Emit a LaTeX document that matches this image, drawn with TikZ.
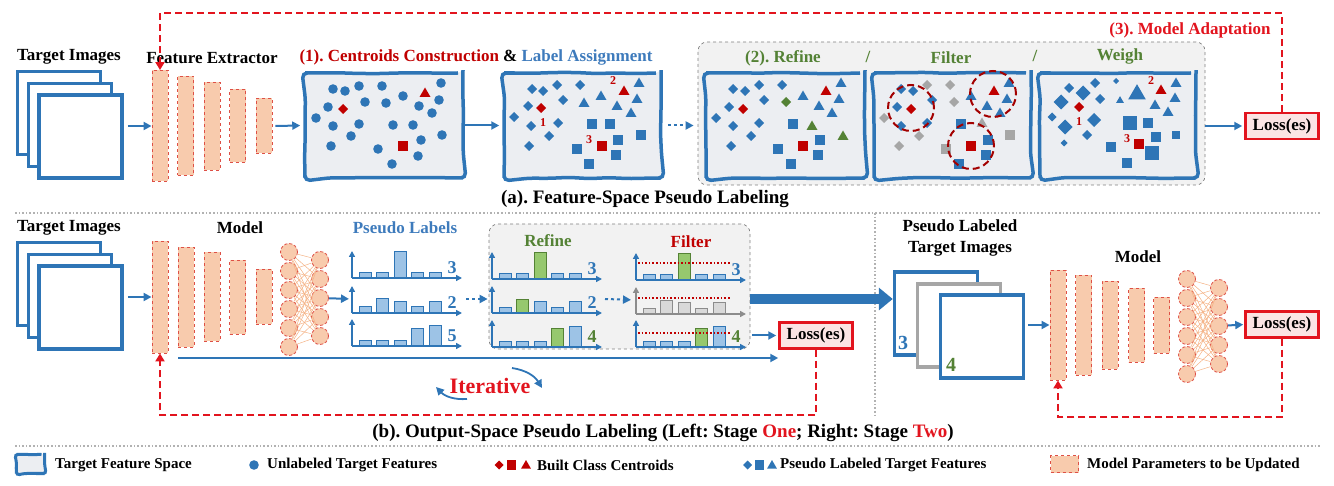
\documentclass[tikz,border=0pt]{standalone}
\usepackage{fontspec}
\setmainfont{Liberation Serif}
\usetikzlibrary{positioning,arrows.meta,shapes.geometric,decorations.pathmorphing}

\definecolor{featblue}{RGB}{46,117,182}
\definecolor{titleblue}{RGB}{62,123,188}
\definecolor{darkred}{RGB}{192,0,0}
\definecolor{fbred}{RGB}{226,20,30}
\definecolor{darkgreen}{RGB}{84,130,53}
\definecolor{peach}{RGB}{248,203,173}
\definecolor{layerred}{RGB}{222,80,70}
\definecolor{fsfill}{RGB}{236,238,242}
\definecolor{boxgray}{RGB}{242,242,242}
\definecolor{losspink}{RGB}{251,228,228}
\definecolor{markgray}{RGB}{166,166,166}
\definecolor{synorange}{RGB}{244,177,131}
% bar colours: fill / border for blue, green, grey bars
\definecolor{bfb}{RGB}{157,195,230}
\definecolor{bdb}{RGB}{46,117,182}
\definecolor{bfg}{RGB}{150,200,110}
\definecolor{bdg}{RGB}{84,130,53}
\definecolor{bfy}{RGB}{217,217,217}
\definecolor{bdy}{RGB}{140,140,140}

\tikzset{
  img/.style={draw=featblue, line width=3.5pt, fill=white, minimum width=83pt, minimum height=83pt, inner sep=0pt},
  layer/.style={draw=layerred, fill=peach, dashed, line width=0.9pt, minimum width=16pt, inner sep=0pt},
  neuron/.style={circle, draw=layerred, fill=peach, densely dashed, line width=0.8pt, minimum size=17pt, inner sep=0pt},
  synapse/.style={draw=synorange, line width=0.5pt},
  fspace/.style={draw=featblue, fill=fsfill, line width=3.5pt, rounded corners=5pt, inner sep=0pt,
    decorate, decoration={random steps, segment length=20pt, amplitude=0.6pt}},
  graybox/.style={draw=gray, fill=boxgray, dashed, line width=0.7pt, rounded corners=9pt, inner sep=0pt},
  lossbox/.style={draw=fbred, fill=losspink, line width=2.5pt, minimum width=73pt, minimum height=26pt, inner sep=0pt},
  flow/.style={draw=featblue, line width=2pt, -{Triangle[length=8pt, width=8pt]}},
  dotflow/.style={flow, dash pattern=on 3pt off 3pt},
  bigflow/.style={draw=featblue, line width=10pt, -{Triangle[length=14pt, width=22pt]}},
  feedback/.style={draw=fbred, line width=2.2pt, dash pattern=on 7pt off 4pt, -{Triangle[length=8pt, width=9pt]}},
  sepline/.style={draw=gray!60, line width=2.2pt, dash pattern=on 1.6pt off 2pt},
  axisarrow/.style={line width=1.8pt, -{Triangle[length=6pt, width=6pt]}},
  thresh/.style={draw=darkred, line width=1.6pt, dash pattern=on 1.6pt off 2pt},
  filtcirc/.style={draw=darkred!85!black, line width=2pt, dash pattern=on 7pt off 4pt},
  ptlbl/.style={text=darkred, font=\bfseries\fontsize{12}{12}\selectfont},
  numlbl/.style={font=\bfseries\fontsize{18}{18}\selectfont},
  legtxt/.style={anchor=west, inner sep=1pt, font=\bfseries\fontsize{15}{17}\selectfont},
  partttl/.style={font=\bfseries\fontsize{19}{21}\selectfont},
  dia/.pic={\fill (-5,0) -- (0,-5) -- (5,0) -- (0,5) -- cycle;},
  tri/.pic={\fill (-5.5,4) -- (5.5,4) -- (0,-5.5) -- cycle;},
  sqr/.pic={\fill (-5.2,-5.2) rectangle (5.2,5.2);},
  dot/.pic={\fill (0,0) circle (4.8pt);},
}

% small bar chart: name, x0, baseline, axis colour, bars h/colour, label colour, label
\newcommand{\probhist}[7]{%
  \foreach \h/\s [count=\k from 0] in {#5}
    \draw[draw=bd\s, fill=bf\s, line width=1pt] ({#2+7+17.5*\k},#3) rectangle ++(12,-\h);
  \draw[axisarrow,#4] (#2,#3) -- ++(0,-27);
  \draw[axisarrow,#4] (#2,#3) -- ++(110,0);
  \coordinate (#1) at (#2,{#3-14});
  \node[numlbl, text=#6] (#1n) at ({#2+100},{#3-10}) {#7};
}

\begin{document}
\frenchspacing
\begin{tikzpicture}[x=1pt, y=-1pt, font=\bfseries\fontsize{17}{19}\selectfont]
\pgfmathsetseed{7}
\useasboundingbox (0,0) rectangle (1334,486);

% ---------------- (a) feature-space pseudo labeling ----------------
\node[img] (sa1) at (59,113) {};
\node[img] (sa2) at (70,125) {};
\node[img] (sa3) at (80.5,136.5) {};
\node (tia) at (69,57) {Target Images};
\node (fex) at (212,58) {Feature Extractor};
\foreach \i/\xc/\h in {1/160/111,2/185.5/99,3/212/88,4/237.5/73,5/264/55}
  \node[layer, minimum height=\h pt] (fe\i) at (\xc,126) {};

\node[graybox, minimum width=507pt, minimum height=143pt] (gb1) at (951.5,113.5) {};
\node[fspace, minimum width=158pt, minimum height=105pt] (fs1) at (384,125.5) {};
\node[fspace, minimum width=157pt, minimum height=105pt] (fs2) at (582.5,125.5) {};
\node[fspace, minimum width=159pt, minimum height=105pt] (fs3) at (785.5,125.5) {};
\node[fspace, minimum width=157pt, minimum height=105pt] (fs4) at (952.5,125.5) {};
\node[fspace, minimum width=156pt, minimum height=105pt] (fs5) at (1118,125.5) {};

\node (cct) at (476,57) {\textcolor{darkred}{(1). Centroids Construction} \& \textcolor{titleblue}{Label Assignment}};
\node[text=darkgreen] (rft) at (783,58) {(2). Refine};
\node[text=darkgreen] (sl1) at (868,57) {/};
\node[text=darkgreen] (flt) at (951,58) {Filter};
\node[text=darkgreen] (sl2) at (1035,56) {/};
\node[text=darkgreen] (wgt) at (1120,56) {Weigh};
\node[text=fbred, anchor=east] (mat) at (1274,30) {(3). Model Adaptation};

% box 1: unlabeled features and centroids
\foreach \x/\y in {333/89,345/91,359/86,382/86,403/96,441/83,328/107,365/102,386/103,419/106,439/100,432/113,
  316/118,333/126,359/124,393/125,413/125,351/136,421/140,442/135,331/146,378/149,418/156,392/164}
  \pic[featblue] at (\x,\y) {dot};
\pic[darkred] at (343,109) {dia};
\pic[darkred] at (425,93) {tri};
\pic[darkred] at (403,146) {sqr};

% box 2: label assignment
\foreach \x/\y in {532/89,543/91,557/85,580/85,563/100,528/106,514/117,531/126,558/123,549/136,529/146}
  \pic[featblue] at (\x,\y) {dia};
\foreach \x/\y in {639/83,601/96,584/103,637/99,617/106,631/113}
  \pic[featblue] at (\x,\y) {tri};
\foreach \x/\y in {592/124,610/124,641/135,618/140,577/149,616/155,589/164}
  \pic[featblue] at (\x,\y) {sqr};
\pic[darkred] at (541,108) {dia};
\pic[darkred] at (624,91) {tri};
\pic[darkred] at (602,146) {sqr};
\node[ptlbl] (p1) at (543,123) {1};
\node[ptlbl] (p2) at (613,81) {2};
\node[ptlbl] (p3) at (589,140) {3};

% box 3: refine
\foreach \x/\y in {733/89,745/91,759/85,782/85,764/100,729/107,716/118,733/126,759/123,751/136,731/146}
  \pic[featblue] at (\x,\y) {dia};
\foreach \x/\y in {841/83,803/96,819/106,839/99,832/113}
  \pic[featblue] at (\x,\y) {tri};
\foreach \x/\y in {793/124,820/140,778/149,818/155,791/164}
  \pic[featblue] at (\x,\y) {sqr};
\pic[darkgreen] at (786,102) {dia};
\pic[darkgreen] at (812,126) {tri};
\pic[darkgreen] at (843,136) {tri};
\pic[darkred] at (743,109) {dia};
\pic[darkred] at (826,91) {tri};
\pic[darkred] at (803,146) {sqr};

% box 4: filter
\foreach \x/\y in {901/89,913/91,897/107,901/126,927/123,932/100}
  \pic[featblue] at (\x,\y) {dia};
\foreach \x/\y in {927/85,950/85,884/118,919/136,899/146,954/102}
  \pic[markgray] at (\x,\y) {dia};
\foreach \x/\y in {1009/83,971/96,987/106,1007/99,1000/113}
  \pic[featblue] at (\x,\y) {tri};
\pic[markgray] at (982,123) {tri};
\foreach \x/\y in {961/124,988/140,986/155,959/164}
  \pic[featblue] at (\x,\y) {sqr};
\pic[markgray] at (946,149) {sqr};
\pic[markgray] at (1010,135) {sqr};
\pic[darkred] at (911,109) {dia};
\pic[darkred] at (994,91) {tri};
\pic[darkred] at (971,146) {sqr};
\draw[filtcirc] (911,108) circle (23pt);
\draw[filtcirc] (993,94) circle (23pt);
\draw[filtcirc] (971,146) circle (23pt);

% box 5: weigh
\foreach \x/\y/\s in {1069/88/1,1083/93/1.5,1095/83/1,1116/81/0.6,1100/99/1,1061/102/1.5,1052/117/0.9,
  1065/127/1.5,1094/120/1.4,1087/135/1,1064/143/0.7}
  \pic[featblue, scale=\s] at (\x,\y) {dia};
\foreach \x/\y/\s in {1176/83/1,1137/93/1.6,1120/100/0.7,1155/105/1,1175/98/1,1168/112/1}
  \pic[featblue, scale=\s] at (\x,\y) {tri};
\foreach \x/\y/\s in {1130/123/1.4,1148/123/1,1176/135/0.7,1156/137/1,1111/147/0.9,1152/153/1.4,1127/163/1}
  \pic[featblue, scale=\s] at (\x,\y) {sqr};
\pic[darkred] at (1079,107) {dia};
\pic[darkred] at (1161,90) {tri};
\pic[darkred] at (1139,144) {sqr};
\node[ptlbl] (w1) at (1079,122) {1};
\node[ptlbl] (w2) at (1151,81) {2};
\node[ptlbl] (w3) at (1127,139) {3};

\node[lossbox] (loss1) at (1282,126) {Loss(es)};
\node[partttl] (ta) at (645,199) {(a). Feature-Space Pseudo Labeling};

\draw[flow, shorten <=4pt] (sa3.east |- fe1) -- (fe1.west);
\draw[flow, shorten <=3pt, shorten >=3pt] (fe5.east) -- (fs1.west);
\draw[flow, shorten >=3pt] (fs1.east) -- (fs2.west);
\draw[dotflow, shorten <=5pt, shorten >=4pt] (fs2.east) -- (gb1.west |- fs2.east);
\draw[flow, shorten >=2pt] (gb1.east |- loss1) -- (loss1.west);
\coordinate (topline) at (0,13);
\draw[feedback] (loss1.north) -- (loss1.north |- topline) -| (fe1.north);

% separators
\draw[sepline] (15,213) -- (1320,213);
\draw[sepline] (875,213) -- (875,415);
\draw[sepline] (15,446) -- (1320,446);

% ---------------- (b) output-space pseudo labeling ----------------
\node[img] (sb1) at (59,284) {};
\node[img] (sb2) at (70,296) {};
\node[img] (sb3) at (80.5,307.5) {};
\node (tib) at (69,228) {Target Images};
\node (mdl) at (240,228) {Model};
\foreach \i/\xc/\h in {1/160/112,2/186/100,3/212/89,4/237.5/74,5/264/55}
  \node[layer, minimum height=\h pt] (mb\i) at (\xc,297) {};
\foreach \i in {1,...,6}
  \node[neuron] (nl\i) at (289,{233+19*\i}) {};
\foreach \j in {1,...,5}
  \node[neuron] (nr\j) at (320,{241+19*\j}) {};
\foreach \i in {1,...,6}
  \foreach \j in {1,...,5}
    \draw[synapse] (nl\i) -- (nr\j);

\node[graybox, minimum width=261pt, minimum height=125pt] (gb2) at (619.5,286.5) {};
\node[text=titleblue] (plt) at (405,228) {Pseudo Labels};
\node[text=darkgreen] (rfb) at (548,241) {Refine};
\node[text=darkred] (flb) at (691,242) {Filter};

\probhist{pl1}{352}{278}{featblue}{5/b,5/b,26/b,5/b,5/b}{featblue}{3}
\probhist{pl2}{352}{313}{featblue}{6/b,14/b,11/b,6/b,11/b}{featblue}{2}
\probhist{pl3}{352}{346}{featblue}{5/b,5/b,5/b,17/b,20/b}{featblue}{5}
\probhist{rf1}{492}{279}{featblue}{5/b,5/b,26/g,5/b,5/b}{featblue}{3}
\probhist{rf2}{492}{313}{featblue}{5/b,13/g,11/b,5/b,11/b}{featblue}{2}
\probhist{rf3}{492}{347}{featblue}{5/b,5/b,5/b,18/g,20/b}{darkgreen}{4}
\probhist{ft1}{636}{280}{featblue}{5/b,5/b,26/g,5/b,5/b}{featblue}{3}
\probhist{ft2}{636}{314}{bdy}{5/y,13/y,11/y,5/y,11/y}{bdy}{}
\probhist{ft3}{636}{347}{featblue}{5/b,5/b,5/b,18/g,20/b}{darkgreen}{4}
\foreach \y in {263,298,333}
  \draw[thresh] (638,\y) -- (730,\y);

\node[lossbox] (loss2) at (816,335.5) {Loss(es)};
\draw[flow, shorten <=4pt] (sb3.east |- mb1) -- (mb1.west);
\draw[flow, shorten >=3pt] (nr3) -- (pl2);
\draw[dotflow, shorten >=1pt] ([xshift=114pt]pl2) -- (gb2.west |- pl2);
\draw[dotflow, shorten >=5pt] ([xshift=113pt]rf2) -- (ft2);
\draw[flow, shorten <=2pt, shorten >=2pt] (gb2.east |- loss2) -- (loss2.west);
\coordinate (itstart) at (178,358);
\draw[flow] (itstart) -- (itstart -| loss2.west);
\coordinate (botline) at (0,415);
\draw[feedback] (loss2.south) -- (loss2.south |- botline) -| (mb1.south);

\node[text=fbred, font=\bfseries\fontsize{22}{24}\selectfont] (iter) at (490,386) {Iterative};
\draw[flow, line width=1.8pt] ([shift={(22,-18)}]iter.center) to[bend left=25] ([shift={(52,2)}]iter.center);
\draw[flow, line width=1.8pt] ([shift={(-23,13)}]iter.center) to[bend left=25] ([shift={(-54,1)}]iter.center);

% stage two
\node (plti) at (960,238) [align=center, font=\bfseries\fontsize{17}{21}\selectfont] {Pseudo Labeled\\Target Images};
\node[img] (pli1) at (936,313.5) {};
\node[img, draw=markgray] (pli2) at (959,325.5) {};
\node[img] (pli3) at (982,336.5) {};
\node[numlbl, text=featblue, font=\bfseries\fontsize{20}{20}\selectfont] (n3) at (903,343) {3};
\node[numlbl, text=darkgreen, font=\bfseries\fontsize{20}{20}\selectfont] (n4) at (951,365) {4};
\draw[bigflow] (gb2.east |- pl2) -- (pli1.west |- pl2);

\node (mdr) at (1138,257) {Model};
\foreach \i/\xc/\h in {1/1058/110,2/1083.5/100,3/1110/88,4/1136.5/74,5/1161.5/56}
  \node[layer, minimum height=\h pt] (rb\i) at (\xc,325) {};
\foreach \i in {1,...,6}
  \node[neuron] (ql\i) at (1187,{260+19*\i}) {};
\foreach \j in {1,...,5}
  \node[neuron] (qr\j) at (1219,{269+19*\j}) {};
\foreach \i in {1,...,6}
  \foreach \j in {1,...,5}
    \draw[synapse] (ql\i) -- (qr\j);
\node[lossbox] (loss3) at (1282,324.5) {Loss(es)};
\draw[flow, shorten <=3pt] (pli3.east |- rb1) -- (rb1.west);
\draw[flow, shorten >=1pt] (qr3) -- (loss3.west);
\coordinate (botline2) at (0,417);
\draw[feedback] (loss3.south) -- (loss3.south |- botline2) -| (rb1.south);

\node[partttl] (tb) at (663,433) {(b). Output-Space Pseudo Labeling (Left: Stage \textcolor{fbred}{One}; Right: Stage \textcolor{fbred}{Two})};

% ---------------- legend ----------------
\node[fspace, line width=3pt, rounded corners=3pt, minimum width=28pt, minimum height=19pt,
  decoration={random steps, segment length=5pt, amplitude=0.3pt}] (lg1) at (30.5,464) {};
\node[legtxt] (lt1) at (54,465) {Target Feature Space};
\pic[featblue] at (254,465) {dot};
\node[legtxt] (lt2) at (266,465) {Unlabeled Target Features};
\pic[darkred, scale=0.9] at (499,465) {dia};
\pic[darkred, scale=0.9] at (511.5,465) {sqr};
\pic[darkred, scale=0.9] at (526,465) {tri};
\node[legtxt] (lt3) at (536,465) {Built Class Centroids};
\pic[featblue, scale=0.9] at (747.5,465) {dia};
\pic[featblue, scale=0.9] at (759.5,465) {sqr};
\pic[featblue, scale=0.9] at (772,465) {tri};
\node[legtxt] (lt4) at (779,465) {Pseudo Labeled Target Features};
\node[layer, minimum width=28pt, minimum height=17pt] (lg5) at (1064.5,464) {};
\node[legtxt] (lt5) at (1086,465) {Model Parameters to be Updated};
\end{tikzpicture}
\end{document}
